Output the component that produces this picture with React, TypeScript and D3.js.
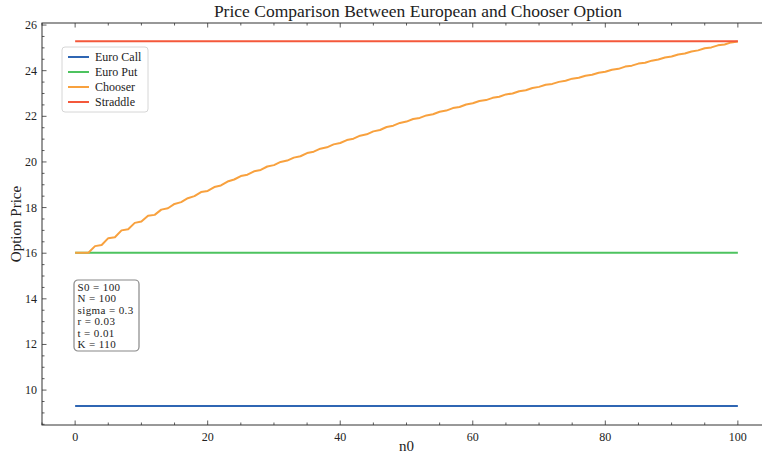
import React, { useEffect, useRef } from "react";
import * as d3 from "d3";

// Choice time n0 (steps of the 100-step tree)
const n0Values: number[] = d3.range(0, 101);

// Chooser option price for each n0
const chooserPrices: number[] = [
  16.02, 16.02, 16.02, 16.31, 16.36, 16.66, 16.70, 17.00, 17.05, 17.33,
  17.39, 17.64, 17.68, 17.91, 17.97, 18.16, 18.24, 18.41, 18.50, 18.68,
  18.73, 18.90, 18.97, 19.14, 19.23, 19.38, 19.44, 19.59, 19.65, 19.80,
  19.86, 20.00, 20.06, 20.19, 20.25, 20.39, 20.45, 20.58, 20.64, 20.77,
  20.83, 20.96, 21.02, 21.15, 21.21, 21.34, 21.40, 21.53, 21.59, 21.71,
  21.77, 21.88, 21.93, 22.04, 22.09, 22.20, 22.25, 22.36, 22.41, 22.52,
  22.57, 22.67, 22.71, 22.81, 22.86, 22.96, 23.00, 23.10, 23.14, 23.24,
  23.29, 23.38, 23.42, 23.51, 23.56, 23.65, 23.69, 23.78, 23.82, 23.91,
  23.95, 24.04, 24.08, 24.18, 24.22, 24.31, 24.35, 24.44, 24.49, 24.58,
  24.62, 24.71, 24.75, 24.84, 24.89, 24.98, 25.02, 25.11, 25.15, 25.24,
  25.28,
];

// Flat European prices
const euroCallPrice = 9.3;
const euroPutPrice = 16.02;
const straddlePrice = 25.29;

const seriesNames: string[] = ["Euro Call", "Euro Put", "Chooser", "Straddle"];
const seriesColors: string[] = ["#2F66B3", "#4DC35F", "#F8A13E", "#F4583B"];

const paramLines: string[] = [
  "S0 = 100",
  "N = 100",
  "sigma = 0.3",
  "r = 0.03",
  "t = 0.01",
  "K = 110",
];

const xTicks: number[] = [0, 20, 40, 60, 80, 100];
const yTicks: number[] = [10, 12, 14, 16, 18, 20, 22, 24, 26];

const W = 762;
const H = 456;
const FONT = "'Liberation Serif', 'DejaVu Serif', serif";

export default function App() {
  const ref = useRef<SVGSVGElement | null>(null);

  useEffect(() => {
    const svg = d3.select(ref.current);
    svg.selectAll("*").remove();

    const left = 42, right = 771, top = 23, bottom = 425;
    const x = d3.scaleLinear().domain([-5, 105]).range([left, right]);
    const y = d3.scaleLinear().domain([8.47, 26.09]).range([bottom, top]);

    const g = svg.append("g");

    // clip for plot region
    svg.append("defs").append("clipPath").attr("id", "plot-clip")
      .append("rect").attr("x", left).attr("y", top)
      .attr("width", right - left).attr("height", bottom - top);

    const lines = g.append("g").attr("clip-path", "url(#plot-clip)");
    const line = d3.line<[number, number]>().x((d) => x(d[0])).y((d) => y(d[1]));

    const flat = (v: number) => n0Values.map((n) => [n, v] as [number, number]);
    const data: [number, number][][] = [
      flat(euroCallPrice),
      flat(euroPutPrice),
      n0Values.map((n, i) => [n, chooserPrices[i]] as [number, number]),
      flat(straddlePrice),
    ];
    data.forEach((d, i) => {
      lines.append("path").attr("d", line(d) as string)
        .attr("fill", "none").attr("stroke", seriesColors[i])
        .attr("stroke-width", 2).attr("stroke-linejoin", "round");
    });

    // spines
    const axisColor = "#333";
    g.append("rect").attr("x", left).attr("y", top)
      .attr("width", right - left).attr("height", bottom - top)
      .attr("fill", "none").attr("stroke", axisColor).attr("stroke-width", 1);

    // ticks (inward, all four sides)
    const ticks = g.append("g").attr("stroke", axisColor).attr("stroke-width", 0.8);
    const xMinor = d3.range(-5, 106, 5);
    xMinor.forEach((v) => {
      const major = v % 20 === 0;
      const len = major ? 4.5 : 2.5;
      ticks.append("line").attr("x1", x(v)).attr("x2", x(v)).attr("y1", bottom).attr("y2", bottom - len);
      ticks.append("line").attr("x1", x(v)).attr("x2", x(v)).attr("y1", top).attr("y2", top + len);
    });
    const yMinor = d3.range(8.5, 26.1, 0.5);
    yMinor.forEach((v) => {
      const major = Math.abs(v % 2) < 1e-6;
      const len = major ? 4.5 : 2.5;
      ticks.append("line").attr("x1", left).attr("x2", left + len).attr("y1", y(v)).attr("y2", y(v));
      ticks.append("line").attr("x1", right).attr("x2", right - len).attr("y1", y(v)).attr("y2", y(v));
    });

    // tick labels
    xTicks.forEach((v) => {
      g.append("text").attr("x", x(v)).attr("y", bottom + 16)
        .attr("text-anchor", "middle").attr("font-family", FONT)
        .attr("font-size", 12).attr("fill", "#222").text(String(v));
    });
    yTicks.forEach((v) => {
      g.append("text").attr("x", left - 5).attr("y", y(v) + 4)
        .attr("text-anchor", "end").attr("font-family", FONT)
        .attr("font-size", 12).attr("fill", "#222").text(String(v));
    });

    // axis titles
    g.append("text").attr("x", (left + right) / 2).attr("y", 451)
      .attr("text-anchor", "middle").attr("font-family", FONT)
      .attr("font-size", 15).attr("fill", "#222").text("n0");
    g.append("text").attr("transform", `translate(21,${(top + bottom) / 2}) rotate(-90)`)
      .attr("text-anchor", "middle").attr("font-family", FONT)
      .attr("font-size", 15).attr("fill", "#222").text("Option Price");

    // chart title
    g.append("text").attr("x", 418).attr("y", 17)
      .attr("text-anchor", "middle").attr("font-family", FONT)
      .attr("font-size", 17.5).attr("fill", "#222")
      .text("Price Comparison Between European and Chooser Option");

    // legend
    const lg = g.append("g").attr("transform", "translate(62,47)");
    lg.append("rect").attr("width", 86).attr("height", 65).attr("rx", 3)
      .attr("fill", "white").attr("fill-opacity", 0.85)
      .attr("stroke", "#d6d6d6").attr("stroke-width", 1);
    seriesNames.forEach((name, i) => {
      const yy = 10 + i * 15;
      lg.append("line").attr("x1", 6).attr("x2", 27).attr("y1", yy).attr("y2", yy)
        .attr("stroke", seriesColors[i]).attr("stroke-width", 2);
      lg.append("text").attr("x", 33).attr("y", yy + 4).attr("font-family", FONT)
        .attr("font-size", 12).attr("fill", "#222").text(name);
    });

    // parameter box
    const pb = g.append("g").attr("transform", "translate(74,280)");
    pb.append("rect").attr("width", 65).attr("height", 71).attr("rx", 4)
      .attr("fill", "white").attr("fill-opacity", 0.9)
      .attr("stroke", "#888").attr("stroke-width", 1.2);
    paramLines.forEach((t, i) => {
      pb.append("text").attr("x", 3.5).attr("y", 11 + i * 11.4).attr("font-family", FONT)
        .attr("font-size", 11).attr("letter-spacing", 0.4)
        .attr("fill", "#222").text(t);
    });
  }, []);

  return (
    <svg ref={ref} width={W} height={H}
      style={{ position: "absolute", left: 0, top: 0, background: "white" }} />
  );
}
